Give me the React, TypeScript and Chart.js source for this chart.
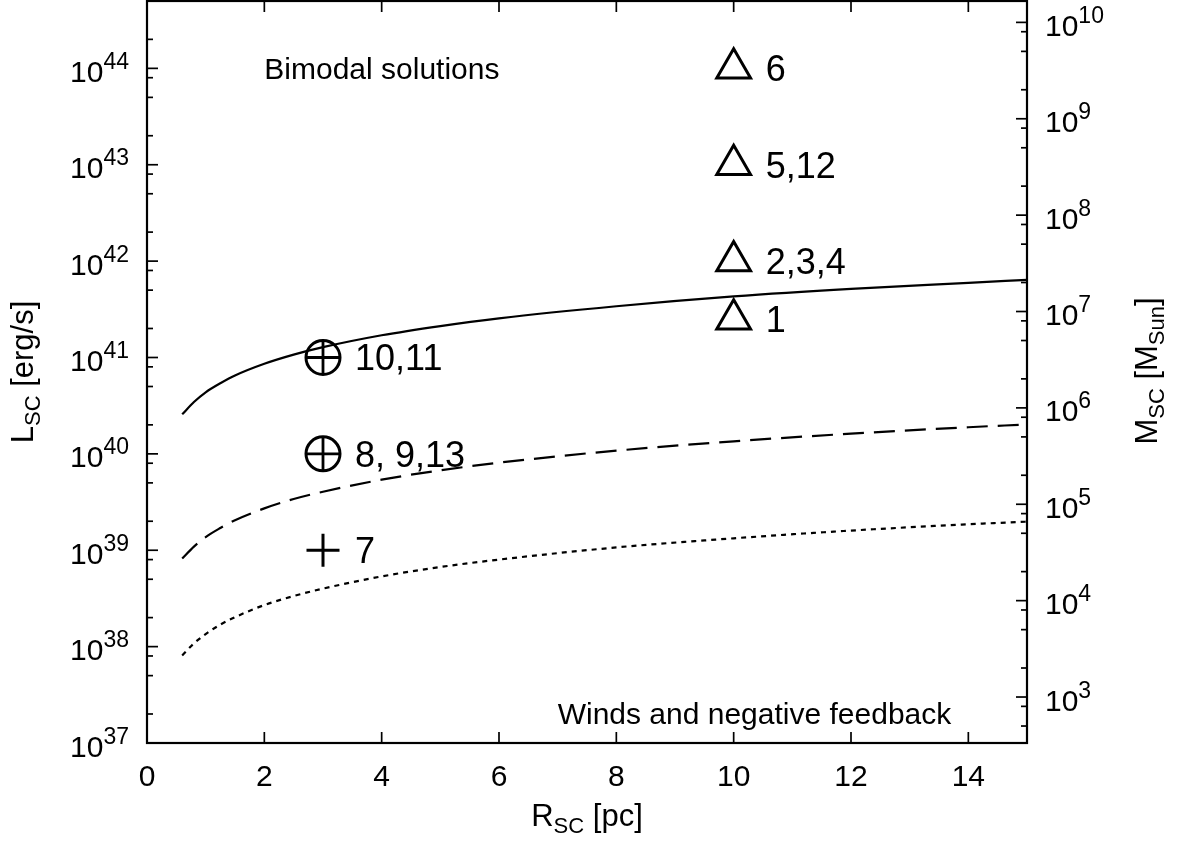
import React, { useEffect, useRef } from "react";
import { Chart, registerables } from "chart.js";

Chart.register(...registerables);

// ---- data ----
const radiusPc = [0.6, 0.8, 1, 1.25, 1.5, 2, 2.5, 3, 4, 5, 6, 8, 10, 12, 14, 15];
const solidLum = [2.57e40, 3.45e40, 4.35e40, 5.4e40, 6.5e40, 8.6e40, 1.07e41, 1.28e41, 1.7e41, 2.12e41, 2.55e41, 3.4e41, 4.3e41, 5.15e41, 5.95e41, 6.4e41];
const dashedLum = [8.2e38, 1.09e39, 1.37e39, 1.7e39, 2.05e39, 2.72e39, 3.4e39, 4.05e39, 5.4e39, 6.75e39, 8.1e39, 1.08e40, 1.35e40, 1.62e40, 1.89e40, 2.02e40];
const dottedLum = [8.1e37, 1.08e38, 1.35e38, 1.69e38, 2.02e38, 2.7e38, 3.35e38, 4.0e38, 5.35e38, 6.7e38, 8.0e38, 1.07e39, 1.33e39, 1.6e39, 1.86e39, 1.98e39];

const triangleR = [10, 10, 10, 10];
const triangleL = [1e44, 1e43, 1e42, 2.5e41];
const triangleLabels = ["6", "5,12", "2,3,4", "1"];

const circleR = [3, 3];
const circleL = [1e41, 1e40];
const circleLabels = ["10,11", "8, 9,13"];

const plusR = [3];
const plusL = [1e39];
const plusLabels = ["7"];

const xTickValues = [0, 2, 4, 6, 8, 10, 12, 14];
const xTickLabels = ["0", "2", "4", "6", "8", "10", "12", "14"];
const yDecades = [37, 38, 39, 40, 41, 42, 43, 44];
const y2Decades = [3, 4, 5, 6, 7, 8, 9, 10];
const minorFactors = [2, 5, 8];

const X_MIN = 0;
const X_MAX = 15;
const Y_MIN = 1e37;
const Y_MAX = 5e44;
const LUM_PER_MASS = 3e34; // right axis: M = L / LUM_PER_MASS

const FONT = "'Liberation Sans', Arial, Helvetica, sans-serif";

type Part = { t: string; size: number; dy: number };

function richWidth(ctx: CanvasRenderingContext2D, parts: Part[]) {
  let w = 0;
  for (const p of parts) {
    ctx.font = `${p.size}px ${FONT}`;
    w += ctx.measureText(p.t).width;
  }
  return w;
}

function drawRich(ctx: CanvasRenderingContext2D, parts: Part[], x: number, y: number, align: "left" | "center" | "right") {
  const w = richWidth(ctx, parts);
  let cx = align === "left" ? x : align === "center" ? x - w / 2 : x - w;
  ctx.textAlign = "left";
  ctx.textBaseline = "alphabetic";
  for (const p of parts) {
    ctx.font = `${p.size}px ${FONT}`;
    ctx.fillText(p.t, cx, y + p.dy);
    cx += ctx.measureText(p.t).width;
  }
}

const framePlugin = {
  id: "gnuframe",
  afterDraw(chart: any) {
    const ctx: CanvasRenderingContext2D = chart.ctx;
    const { left, right, top, bottom } = chart.chartArea;
    const xs = chart.scales.x;
    const ys = chart.scales.y;
    const y2s = chart.scales.y2;
    ctx.save();
    ctx.strokeStyle = "#000";
    ctx.fillStyle = "#000";
    const seg = (x1: number, y1: number, x2: number, y2: number) => {
      ctx.beginPath();
      ctx.moveTo(x1, y1);
      ctx.lineTo(x2, y2);
      ctx.stroke();
    };
    ctx.lineWidth = 1.7;
    // x ticks (bottom + mirrored top)
    xTickValues.forEach((v) => {
      const px = xs.getPixelForValue(v);
      if (px <= left + 1 || px >= right - 1) return;
      seg(px, bottom, px, bottom - 11);
      seg(px, top, px, top + 11);
    });
    // left y ticks
    [36, ...yDecades].forEach((d) => {
      const py = ys.getPixelForValue(Math.pow(10, d));
      if (py >= top && py <= bottom) seg(left, py, left + 11, py);
      minorFactors.forEach((f) => {
        const my = ys.getPixelForValue(f * Math.pow(10, d));
        if (my > top + 1 && my < bottom - 1) seg(left, my, left + 6, my);
      });
    });
    // right y2 ticks
    [2, ...y2Decades].forEach((d) => {
      const py = y2s.getPixelForValue(Math.pow(10, d));
      if (py >= top && py <= bottom) seg(right, py, right - 11, py);
      minorFactors.forEach((f) => {
        const my = y2s.getPixelForValue(f * Math.pow(10, d));
        if (my > top + 1 && my < bottom - 1) seg(right, my, right - 6, my);
      });
    });
    // frame
    ctx.lineWidth = 2.2;
    ctx.strokeRect(left, top, right - left, bottom - top);

    // tick labels
    const MAIN = 30;
    const SUP = 23;
    yDecades.forEach((d) => {
      const py = ys.getPixelForValue(Math.pow(10, d));
      drawRich(ctx, [
        { t: "10", size: MAIN, dy: 0 },
        { t: String(d), size: SUP, dy: -13 },
      ], 129, py + 13.5, "right");
    });
    y2Decades.forEach((d) => {
      const py = y2s.getPixelForValue(Math.pow(10, d));
      drawRich(ctx, [
        { t: "10", size: MAIN, dy: 0 },
        { t: String(d), size: SUP, dy: -13 },
      ], 1045, py + 13.5, "left");
    });
    xTickValues.forEach((v, i) => {
      const px = xs.getPixelForValue(v);
      drawRich(ctx, [{ t: xTickLabels[i], size: MAIN, dy: 0 }], px, 786, "center");
    });

    // axis titles
    const TITLE = 31;
    const SUB = 22;
    drawRich(ctx, [
      { t: "R", size: TITLE, dy: 0 },
      { t: "SC", size: SUB, dy: 7 },
      { t: " [pc]", size: TITLE, dy: 0 },
    ], (left + right) / 2, 826, "center");

    ctx.save();
    ctx.translate(33, 372);
    ctx.rotate(-Math.PI / 2);
    drawRich(ctx, [
      { t: "L", size: TITLE, dy: 0 },
      { t: "SC", size: SUB, dy: 7 },
      { t: " [erg/s]", size: TITLE, dy: 0 },
    ], 0, 0, "center");
    ctx.restore();

    ctx.save();
    ctx.translate(1157, 371);
    ctx.rotate(-Math.PI / 2);
    drawRich(ctx, [
      { t: "M", size: TITLE, dy: 0 },
      { t: "SC", size: SUB, dy: 7 },
      { t: " [M", size: TITLE, dy: 0 },
      { t: "Sun", size: SUB, dy: 7 },
      { t: "]", size: TITLE, dy: 0 },
    ], 0, 0, "center");
    ctx.restore();

    // annotations
    drawRich(ctx, [{ t: "Bimodal solutions", size: 30, dy: 0 }], xs.getPixelForValue(2), ys.getPixelForValue(1e44) + 10.5, "left");
    drawRich(ctx, [{ t: "Winds and negative feedback", size: 30, dy: 0 }], xs.getPixelForValue(7), ys.getPixelForValue(2e37) + 10.5, "left");

    // point labels
    const PL = 36;
    const lab = (rs: number[], ls: number[], texts: string[]) => {
      rs.forEach((r, i) => {
        const px = xs.getPixelForValue(r);
        const py = ys.getPixelForValue(ls[i]);
        drawRich(ctx, [{ t: texts[i], size: PL, dy: 0 }], px + 32, py + 13, "left");
      });
    };
    lab(triangleR, triangleL, triangleLabels);
    lab(circleR, circleL, circleLabels);
    lab(plusR, plusL, plusLabels);

    ctx.restore();
  },
};

const toXY = (xsArr: number[], ysArr: number[]) => xsArr.map((x, i) => ({ x, y: ysArr[i] }));

export default function App() {
  const ref = useRef<HTMLCanvasElement | null>(null);
  useEffect(() => {
    if (!ref.current) return;
    const curve = (data: number[], dash: number[]) => ({
      data: toXY(radiusPc, data),
      borderColor: "#000",
      borderWidth: 2.2,
      borderDash: dash,
      pointRadius: 0,
      fill: false,
      cubicInterpolationMode: "monotone" as const,
      showLine: true,
    });
    const markers = (rs: number[], ls: number[], style: string, radius: number, bw: number) => ({
      data: toXY(rs, ls),
      showLine: false,
      pointStyle: style,
      pointRadius: radius,
      pointBorderWidth: bw,
      pointBorderColor: "#000",
      pointBackgroundColor: "rgba(0,0,0,0)",
      borderColor: "#000",
      backgroundColor: "rgba(0,0,0,0)",
    });
    const chart = new Chart(ref.current, {
      type: "line",
      data: {
        datasets: [
          curve(solidLum, []),
          curve(dashedLum, [21, 10]),
          curve(dottedLum, [5, 5]),
          markers(triangleR, triangleL, "triangle", 19.5, 3),
          markers(circleR, circleL, "circle", 17, 3),
          markers(circleR, circleL, "cross", 17, 2.8),
          markers(plusR, plusL, "cross", 16.5, 3),
        ] as any,
      },
      options: {
        responsive: false,
        devicePixelRatio: 1,
        animation: false,
        events: [],
        layout: { autoPadding: false, padding: { left: 147, right: 150, top: 1, bottom: 103 } },
        plugins: { legend: { display: false }, tooltip: { enabled: false } },
        scales: {
          x: { type: "linear", min: X_MIN, max: X_MAX, display: false },
          y: { type: "logarithmic", min: Y_MIN, max: Y_MAX, display: false },
          y2: { type: "logarithmic", position: "right", min: Y_MIN / LUM_PER_MASS, max: Y_MAX / LUM_PER_MASS, display: false },
        },
      },
      plugins: [framePlugin],
    });
    return () => chart.destroy();
  }, []);
  return (
    <div style={{ position: "fixed", left: 0, top: 0, width: 1177, height: 846, background: "#fff" }}>
      <canvas ref={ref} width={1177} height={846} style={{ width: 1177, height: 846, display: "block" }} />
    </div>
  );
}
